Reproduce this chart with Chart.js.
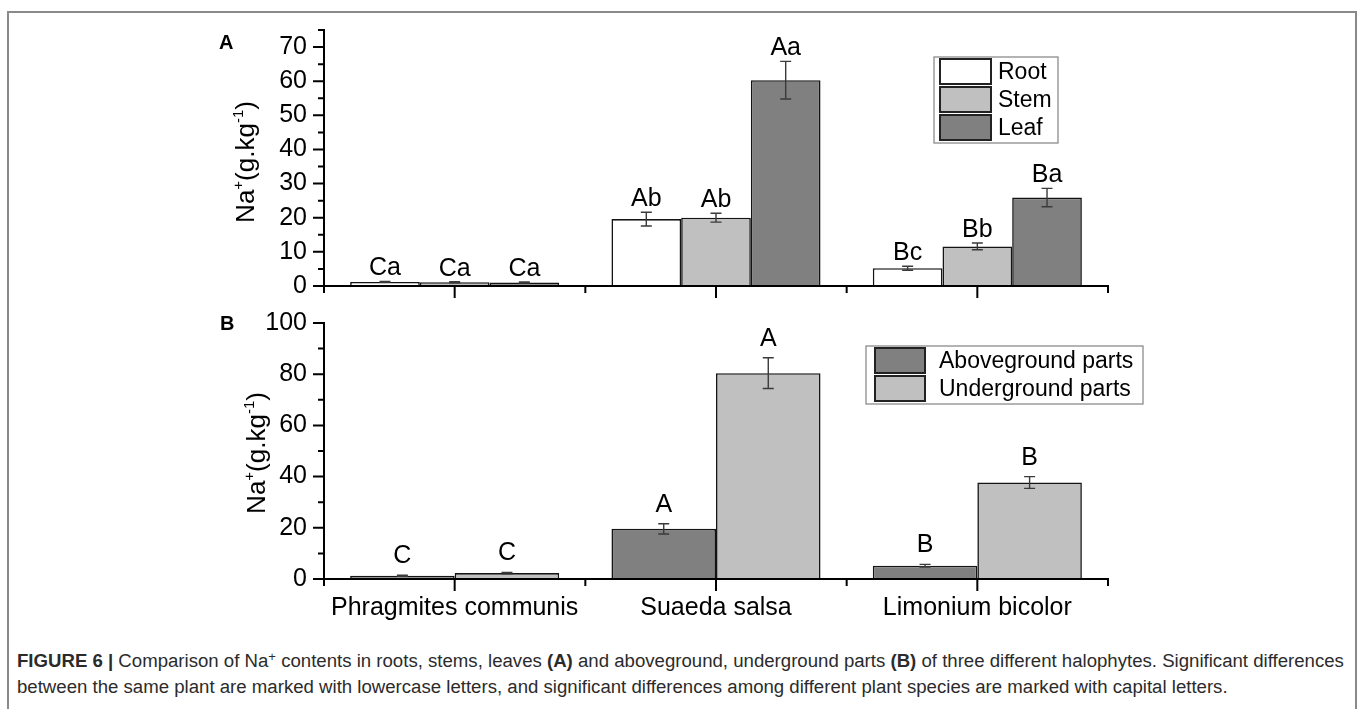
<!DOCTYPE html>
<html><head><meta charset="utf-8">
<script src="https://cdn.jsdelivr.net/npm/chart.js@4.4.0/dist/chart.umd.min.js"></script>
<style>
html,body{margin:0;padding:0;background:#fff;width:1360px;height:709px;overflow:hidden;}
#frame{position:absolute;left:7px;top:11px;width:1350px;height:800px;border:2px solid #8a8a8a;border-bottom:none;box-sizing:border-box;}
canvas{position:absolute;left:0;}
#cA{top:0}
#cB{top:300px}
#caption{position:absolute;left:17px;top:648px;font-family:"Liberation Sans",Arial,sans-serif;color:#2b2b2b;white-space:nowrap;line-height:26px;font-size:15px;}
#caption sup{font-size:0.7em;vertical-align:0.45em;line-height:0;}
</style></head>
<body>
<div id="frame"></div>
<canvas id="cA" width="1360" height="300"></canvas>
<canvas id="cB" width="1360" height="340"></canvas>
<div id="caption"><span id="l1"><b>FIGURE 6 |</b> Comparison of Na<sup>+</sup> contents in roots, stems, leaves <b>(A)</b> and aboveground, underground parts <b>(B)</b> of three different halophytes. Significant differences</span><br>between the same plant are marked with lowercase letters, and significant differences among different plant species are marked with capital letters.</div>
<script>
// ---------- data ----------
const categories = ['Phragmites communis', 'Suaeda salsa', 'Limonium bicolor'];

const rootNa = [1.2, 19.6, 5.2];
const rootErr = [0.15, 2.0, 0.6];
const rootLetters = ['Ca', 'Ab', 'Bc'];
const stemNa = [1.1, 20.0, 11.6];
const stemErr = [0.15, 1.3, 1.0];
const stemLetters = ['Ca', 'Ab', 'Bb'];
const leafNa = [1.0, 60.3, 25.9];
const leafErr = [0.15, 5.5, 2.7];
const leafLetters = ['Ca', 'Aa', 'Ba'];

const aboveNa = [1.3, 19.6, 5.2];
const aboveErr = [0.2, 2.0, 0.5];
const aboveLetters = ['C', 'A', 'B'];
const underNa = [2.3, 80.4, 37.7];
const underErr = [0.3, 6.0, 2.3];
const underLetters = ['C', 'A', 'B'];

const yMaxA = 75, yStepA = 10, yMinorA = 5;
const yMaxB = 100, yStepB = 20, yMinorB = 10;

// ---------- plugins ----------
const FONT = '"Liberation Sans", Arial, sans-serif';

const errLetters = {
  id: 'errLetters',
  afterDatasetsDraw(chart, args, o) {
    const ctx = chart.ctx, ys = chart.scales.y;
    chart.data.datasets.forEach((ds, i) => {
      const meta = chart.getDatasetMeta(i);
      meta.data.forEach((bar, j) => {
        const v = ds.data[j], e = ds.errors[j];
        const yt = ys.getPixelForValue(v + e), yb = ys.getPixelForValue(v - e);
        ctx.save();
        ctx.strokeStyle = '#3a3a3a'; ctx.lineWidth = 1.4;
        ctx.beginPath();
        ctx.moveTo(bar.x, yt); ctx.lineTo(bar.x, yb);
        ctx.moveTo(bar.x - 5.5, yt); ctx.lineTo(bar.x + 5.5, yt);
        ctx.moveTo(bar.x - 5.5, yb); ctx.lineTo(bar.x + 5.5, yb);
        ctx.stroke();
        ctx.fillStyle = '#000';
        ctx.font = '25px ' + FONT;
        ctx.textAlign = 'center'; ctx.textBaseline = 'alphabetic';
        ctx.fillText(ds.letters[j], bar.x, yt - o.gap);
        ctx.restore();
      });
    });
  }
};

const axisTicks = {
  id: 'axisTicks',
  afterDraw(chart, args, o) {
    const ctx = chart.ctx, xs = chart.scales.x, ys = chart.scales.y;
    ctx.save(); ctx.strokeStyle = '#000'; ctx.lineWidth = 2;
    ctx.beginPath();
    for (let v = ys.min; v <= ys.max + 1e-9; v += o.minor) {
      const py = ys.getPixelForValue(v);
      const major = Math.abs(v / o.major - Math.round(v / o.major)) < 1e-9;
      const len = major ? 11 : 6;
      ctx.moveTo(xs.left - len, py); ctx.lineTo(xs.left, py);
    }
    const n = chart.data.labels.length, w = (xs.right - xs.left) / n;
    for (let i = 0; i <= n; i++) {
      const px = xs.left + i * w;
      ctx.moveTo(px, ys.bottom); ctx.lineTo(px, ys.bottom + 7);
    }
    for (let i = 0; i < n; i++) {
      const px = xs.getPixelForValue(i);
      ctx.moveTo(px, ys.bottom); ctx.lineTo(px, ys.bottom + 12);
    }
    ctx.stroke(); ctx.restore();
  }
};

const decor = {
  id: 'decor',
  afterDraw(chart, args, o) {
    const ctx = chart.ctx;
    ctx.save();
    // panel letter
    ctx.fillStyle = '#000';
    ctx.font = 'bold 20px ' + FONT;
    ctx.textAlign = 'left'; ctx.textBaseline = 'alphabetic';
    ctx.fillText(o.panel, o.panelX, o.panelY);
    // y title with superscripts
    const parts = [['Na', 0], ['+', 1], ['(g.kg', 0], ['-1', 1], [')', 0]];
    const fMain = '26px ' + FONT, fSup = '15px ' + FONT;
    let total = 0;
    parts.forEach(p => { ctx.font = p[1] ? fSup : fMain; total += ctx.measureText(p[0]).width; });
    ctx.translate(o.titleX, o.titleY);
    ctx.rotate(-Math.PI / 2);
    let x = -total / 2;
    parts.forEach(p => {
      ctx.font = p[1] ? fSup : fMain;
      ctx.fillText(p[0], x, p[1] ? -11 : 0);
      x += ctx.measureText(p[0]).width;
    });
    ctx.restore();
    // legend
    const L = o.legend;
    ctx.save();
    ctx.strokeStyle = '#8c8c8c'; ctx.lineWidth = 1.3;
    ctx.strokeRect(L.x, L.y, L.w, L.h);
    chart.data.datasets.forEach((ds, i) => {
      const sy = L.y + L.sy + i * L.step;
      ctx.fillStyle = ds.backgroundColor;
      ctx.fillRect(L.x + L.sx, sy, L.sw, L.sh);
      ctx.strokeStyle = '#222'; ctx.lineWidth = 2;
      ctx.strokeRect(L.x + L.sx, sy, L.sw, L.sh);
      ctx.fillStyle = '#000';
      ctx.font = L.font + 'px ' + FONT;
      ctx.textAlign = 'left'; ctx.textBaseline = 'middle';
      ctx.fillText(ds.label, L.x + L.tx, sy + L.sh / 2 + 1);
    });
    ctx.restore();
  }
};

function fixScale(w, h) {
  return function (s) {
    if (w !== null) s.width = w;
    if (h !== null) s.height = h;
    s.paddingTop = 0; s.paddingBottom = 0; s.paddingLeft = 0; s.paddingRight = 0;
  };
}

function makeChart(id, datasets, cfg) {
  return new Chart(document.getElementById(id), {
    type: 'bar',
    data: { labels: categories, datasets: datasets },
    options: {
      responsive: false, animation: false, devicePixelRatio: 1,
      layout: { padding: { left: 0, right: 252, top: cfg.top, bottom: 0 } },
      datasets: { bar: { categoryPercentage: 0.8, barPercentage: 1.0, borderWidth: 1.6, borderColor: '#141414', borderSkipped: 'start' } },
      plugins: {
        legend: { display: false }, tooltip: { enabled: false },
        errLetters: { gap: cfg.gap },
        axisTicks: { major: cfg.step, minor: cfg.minor },
        decor: cfg.decor
      },
      scales: {
        x: {
          grid: { display: false, drawTicks: false },
          border: { display: true, color: '#000', width: 2, z: 1 },
          ticks: { display: cfg.showX, autoSkip: false, maxRotation: 0, padding: 14, color: '#000', font: { family: FONT, size: 25 } },
          afterFit: fixScale(null, cfg.xh)
        },
        y: {
          min: 0, max: cfg.max,
          grid: { display: false, drawTicks: false },
          border: { display: true, color: '#000', width: 2, z: 1 },
          ticks: { stepSize: cfg.step, includeBounds: false, padding: 17, color: '#000', font: { family: FONT, size: 25 } },
          afterFit: fixScale(324, null)
        }
      }
    },
    plugins: [errLetters, axisTicks, decor]
  });
}

makeChart('cA', [
  { label: 'Root', data: rootNa, errors: rootErr, letters: rootLetters, backgroundColor: '#ffffff' },
  { label: 'Stem', data: stemNa, errors: stemErr, letters: stemLetters, backgroundColor: '#c0c0c0' },
  { label: 'Leaf', data: leafNa, errors: leafErr, letters: leafLetters, backgroundColor: '#808080' }
], {
  top: 30, xh: 14, max: yMaxA, step: yStepA, minor: yMinorA, gap: 6, showX: false,
  decor: { panel: 'A', panelX: 219, panelY: 49, titleX: 254, titleY: 162,
    legend: { x: 934, y: 57, w: 124, h: 86, sx: 6, sy: 2, sw: 51, sh: 25, step: 28, tx: 64, font: 23 } }
});

makeChart('cB', [
  { label: 'Aboveground parts', data: aboveNa, errors: aboveErr, letters: aboveLetters, backgroundColor: '#808080' },
  { label: 'Underground parts', data: underNa, errors: underErr, letters: underLetters, backgroundColor: '#c0c0c0' }
], {
  top: 23, xh: 61, max: yMaxB, step: yStepB, minor: yMinorB, gap: 12, showX: true,
  decor: { panel: 'B', panelX: 220, panelY: 30, titleX: 265, titleY: 153,
    legend: { x: 866, y: 46, w: 277, h: 58, sx: 9, sy: 2, sw: 50, sh: 25, step: 28, tx: 73, font: 23 } }
});

// fit caption first line to reference width
(function () {
  const cap = document.getElementById('caption');
  const l1 = document.getElementById('l1');
  const target = 1328;
  const w = l1.getBoundingClientRect().width;
  cap.style.fontSize = (15 * target / w).toFixed(2) + 'px';
})();
</script>
</body></html>
